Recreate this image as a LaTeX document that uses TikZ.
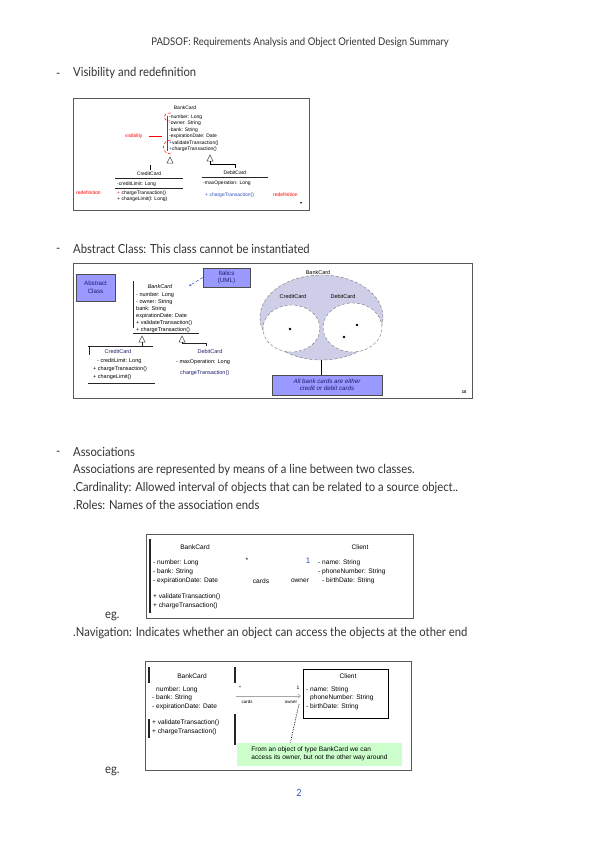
\documentclass[tikz,border=0pt]{standalone}
\usepackage{fontspec}
\setmainfont{Liberation Sans}
\newfontfamily\hand[FakeStretch=0.9]{Lato}
\usetikzlibrary{arrows.meta,shapes.geometric}
\definecolor{lav}{RGB}{153,153,255}
\definecolor{lavlight}{RGB}{206,206,232}
\definecolor{notegreen}{RGB}{204,255,204}
\definecolor{umlblue}{RGB}{50,80,190}
\definecolor{navyt}{RGB}{30,30,110}
\begin{document}
\begin{tikzpicture}[x=1pt,y=-1pt,
  hand/.style={font=\hand\fontsize{12.5}{14}\selectfont,anchor=west,inner sep=0pt,text=black!80},
  t5/.style={font=\fontsize{5}{6}\selectfont,anchor=west,inner sep=0pt},
  t55/.style={font=\fontsize{5.5}{6.5}\selectfont,anchor=west,inner sep=0pt},
  t7/.style={font=\fontsize{6.6}{7.5}\selectfont,anchor=west,inner sep=0pt},
  frame/.style={draw=black!65,line width=1pt},
  tri/.style={draw=black!70,fill=white,line width=0.5pt},
  lavbox/.style={draw=black!70,fill=lav,inner sep=1pt,align=center,text=navyt,font=\fontsize{6.2}{7.5}\selectfont},
  cls/.style={line width=0.9pt,black!85},
]
\useasboundingbox[fill=white] (0,0) rectangle (599,848);

% ---------- header
\node[hand,anchor=center,font=\hand\fontsize{10.6}{12}\selectfont] (hdr) at (300,43) {PADSOF: Requirements Analysis and Object Oriented Design Summary};

% ---------- section 1
\node[hand] (b1) at (56,75) {-};
\node[hand] (h1) at (73,73) {Visibility and redefinition};

\draw[frame] (73,99) rectangle (309,210);
\node[t5,anchor=center] (d1n) at (185,108) {BankCard};
\node[t5] (d1a1) at (169,117) {-number: Long};
\node[t5] (d1a2) at (169,123.5) {-owner: String};
\node[t5] (d1a3) at (169,130) {-bank: String};
\node[t5] (d1a4) at (169,136.5) {-expirationDate: Date};
\node[t5] (d1a5) at (169,143) {\textcolor{umlblue}{+}validateTransaction()};
\node[t5] (d1a6) at (169,149.5) {\textcolor{umlblue}{+}chargeTransaction()};
\coordinate (vtop) at (167.5,116);
\coordinate (vbot) at (167.5,151);
\draw[red,line width=0.6pt] (vtop) -- (vbot);
\draw[red,densely dashed,line width=0.5pt] (171,113) .. controls (162,112) and (162,121) .. (170,121);
\draw[red,densely dashed,line width=0.5pt] (171,140) .. controls (161,140) and (161,154) .. (171,154);
\node[t5,text=red] (vis) at (125,136) {visibility};
\coordinate (visend) at (162,136);
\draw[red,line width=0.5pt] ([xshift=6pt]vis.east) -- (visend);
% inheritance triangles
\coordinate (d1t1) at (170,157);
\coordinate (d1t2) at (210,155);
\draw[tri] (d1t1) -- ++(-3,6) -- ++(6,0) -- cycle;
\draw[tri] (d1t2) -- ++(-3,6) -- ++(6,0) -- cycle;
\coordinate (d1c1a) at (150,165);
\coordinate (d1c1b) at (150,170);
\draw[line width=0.7pt] (d1c1a) -- (d1c1b);
\coordinate (d1c2a) at (210,161);
\coordinate (d1c2b) at (235,168);
\draw[line width=0.9pt] (d1c2a) -- (210,164) -| (d1c2b);
% CreditCard
\node[t5,anchor=center] (d1cc) at (149,174) {CreditCard};
\draw[cls] (115,178) -- (183,178);
\node[t5] (d1cc1) at (117,184) {-creditLimit: Long};
\draw[cls] (115,188.5) -- (183,188.5);
\node[t5] (d1cc2) at (117,193) {\textcolor{red}{+} chargeTransaction()};
\node[t5] (d1cc3) at (117,199.5) {+ changeLimit(l: Long)};
\node[t5,text=red] (d1r1) at (76,193) {redefinition};
% DebitCard
\node[t5,anchor=center] (d1dc) at (235,173) {DebitCard};
\draw[cls] (202,177) -- (268,177);
\node[t5] (d1dc1) at (203,183) {-maxOperation: Long};
\node[t5,text=umlblue] (d1dc2) at (205,195) {+ chargeTransaction()};
\node[t5,text=red] (d1r2) at (273,195) {redefinition};
\node[font=\fontsize{3.5}{4}\selectfont,inner sep=0pt] (d1mk) at (301,204) {▼};

% ---------- section 2
\node[hand] (b2) at (56,250) {-};
\node[hand] (h2) at (73,249) {Abstract Class: This class cannot be instantiated};

\draw[frame] (73,263) rectangle (472,398);
\node[lavbox,minimum width=39pt,minimum height=27pt] (abs) at (95.5,287.5) {Abstract\\Class};
\node[lavbox,minimum width=47pt,minimum height=19pt] (ital) at (226.5,277.5) {Italics\\(UML)};
\coordinate (italtip) at (189,286);
\draw[umlblue,densely dashed,line width=0.5pt,-{Stealth[length=2.5pt]}] (ital.west) -- (italtip);
\node[t55,anchor=center,font=\itshape\fontsize{5.5}{6.5}\selectfont] (d2n) at (160,287) {BankCard};
\draw[cls,line width=1pt] (133,281) -- (133,328);
\node[t55] (d2a1) at (136,295) {- number: Long};
\node[t55] (d2a2) at (136,302) {- owner: String};
\node[t55] (d2a3) at (136,309) {bank: String};
\node[t55] (d2a4) at (136,316) {expirationDate: Date};
\node[t55] (d2a5) at (136,323) {+ validateTransaction()};
\node[t55] (d2a6) at (136,330) {+ chargeTransaction()};
\draw[cls,line width=1pt] (133,333.5) -- (199,333.5);
\coordinate (d2t1) at (142,336);
\coordinate (d2t2) at (182,336);
\draw[tri] (d2t1) -- ++(-3,6) -- ++(6,0) -- cycle;
\draw[tri] (d2t2) -- ++(-3,6) -- ++(6,0) -- cycle;
\coordinate (d2c1) at (142,346);
\draw[cls] (d2t1) ++(0,6) -- (d2c1);
\draw[cls] (88,346) -- (153,346);
\draw[cls] (89,346) -- (89,355);
\coordinate (d2c2) at (206,346);
\draw[cls] (d2t2) ++(0,6) -- (182,343) -| (d2c2);
\node[t55,anchor=center,text=navyt] (d2cc) at (118,352) {CreditCard};
\node[t55] (d2cc1) at (97,361) {- creditLimit: Long};
\node[t55] (d2cc2) at (93,369) {+ chargeTransaction()};
\node[t55] (d2cc3) at (93,377) {+ changeLimit()};
\draw[cls] (88,383) -- (155,383);
\node[t55,anchor=center,text=navyt] (d2dc) at (210,352) {DebitCard};
\node[t55] (d2dc1) at (176,362) {- maxOperation: Long};
\node[t55,text=navyt] (d2dc2) at (180,373) {chargeTransaction()};
% Venn
\node[t55,anchor=center] (vbc) at (318,273) {BankCard};
\node[ellipse,draw=black!55,densely dashed,fill=lavlight,minimum width=123pt,minimum height=85pt,inner sep=0pt] (vell) at (321.5,317.5) {};
\node[ellipse,draw=black!55,densely dashed,fill=white,minimum width=57pt,minimum height=47pt,inner sep=0pt] (vcc) at (291.5,328.5) {};
\node[ellipse,draw=black!55,densely dashed,fill=white,minimum width=59pt,minimum height=49pt,inner sep=0pt] (vdc) at (352.5,327.5) {};
\node[t55,anchor=center] (vccl) at (293,297) {CreditCard};
\node[t55,anchor=center] (vdcl) at (343,297) {DebitCard};
\node[circle,fill=black,inner sep=0pt,minimum size=2.6pt] (dot1) at (290,329) {};
\node[circle,fill=black,inner sep=0pt,minimum size=2.6pt] (dot2) at (357,325) {};
\node[circle,fill=black,inner sep=0pt,minimum size=2.6pt] (dot3) at (344,337) {};
\node[lavbox,font=\itshape\fontsize{6.2}{7.5}\selectfont,minimum width=110pt,minimum height=20pt] (vnote) at (327,385) {All bank cards are either\\credit or debit cards};
\draw[line width=0.8pt] (vell.south) -- (vell.south |- vnote.north);
\node[font=\bfseries\fontsize{4}{4}\selectfont,inner sep=0pt] (pg10) at (464,392) {10};

% ---------- section 3
\node[hand] (b3) at (56,453) {-};
\node[hand] (h3) at (73,452) {Associations};
\node[hand] (l1) at (73,470) {Associations are represented by means of a line between two classes.};
\node[hand] (l2) at (73,488) {.Cardinality: Allowed interval of objects that can be related to a source object..};
\node[hand] (l3) at (73,505) {.Roles: Names of the association ends};

\draw[frame] (146,534) rectangle (413,618);
\draw[cls,line width=1.1pt] (150,539) -- (150,613);
\node[t7,anchor=center] (d3n) at (195,547) {BankCard};
\node[t7] (d3a1) at (153,563) {- number: Long};
\node[t7] (d3a2) at (153,572) {- bank: String};
\node[t7] (d3a3) at (153,581) {- expirationDate: Date};
\node[t7] (d3m1) at (153,597) {+ validateTransaction()};
\node[t7] (d3m2) at (153,606) {+ chargeTransaction()};
\node[t7,anchor=center] (d3star) at (247,560) {*};
\node[t7,anchor=center] (d3cards) at (261,581) {cards};
\node[t7,anchor=center,text=umlblue,font=\fontsize{8}{9}\selectfont] (d3one) at (308,561) {1};
\node[t7,anchor=center] (d3owner) at (300,581) {owner};
\node[t7,anchor=center] (d3cl) at (360,547) {Client};
\node[t7] (d3c1) at (318,563) {- name: String};
\node[t7] (d3c2) at (318,572) {- phoneNumber: String};
\node[t7] (d3c3) at (322,581) {- birthDate: String};
\node[hand] (eg1) at (105,616) {eg.};

\node[hand] (l4) at (73,633) {.Navigation: Indicates whether an object can access the objects at the other end};

% ---------- diagram 4
\draw[frame] (145,661) rectangle (411,770);
\draw[cls,line width=1.1pt] (149,667) -- (149,683);
\draw[cls,line width=1.1pt] (235,667) -- (235,683);
\node[t7,anchor=center] (d4n) at (192,676) {BankCard};
\node[t7] (d4a1) at (156,690) {number: Long};
\node[t7] (d4a2) at (152,698) {- bank: String};
\node[t7] (d4a3) at (152,707) {- expirationDate: Date};
\draw[cls,line width=1.1pt] (149,719) -- (149,738);
\draw[cls,line width=1.1pt] (235,714) -- (235,745);
\node[t7] (d4m1) at (152,723) {+ validateTransaction()};
\node[t7] (d4m2) at (152,732) {+ chargeTransaction()};
\node[draw=black,line width=0.9pt,minimum width=85pt,minimum height=49pt,inner sep=0pt] (d4cl) at (345.5,693.5) {};
\node[t7,anchor=center] (d4cln) at (348,676) {Client};
\node[t7] (d4c1) at (306,690) {- name: String};
\node[t7] (d4c2) at (310,698) {phoneNumber: String};
\node[t7] (d4c3) at (306,707) {- birthDate: String};
\coordinate (asl) at (236,696);
\coordinate (asr) at (301,696);
\draw[black!35,line width=0.6pt,-{Straight Barb[length=2.5pt,width=4pt]}] (asl) -- (asr);
\node[t5,anchor=center] (d4star) at (240,688) {*};
\node[t5,anchor=center] (d4one) at (298,688) {1};
\node[font=\fontsize{4.5}{5}\selectfont,inner sep=0pt] (d4cards) at (247,702) {cards};
\node[font=\fontsize{4.5}{5}\selectfont,inner sep=0pt] (d4owner) at (291,702) {owner};
\node[fill=notegreen,minimum width=165pt,minimum height=23pt,inner sep=2pt,align=left,font=\fontsize{6.6}{8.2}\selectfont] (note) at (319.5,754) {From an object of type BankCard we can\\access its owner, but not the other way around};
\coordinate (navtip) at (299,704);
\draw[densely dotted,line width=0.7pt] (navtip) -- ([xshift=-29pt]note.north);
\node[hand] (eg2) at (105,771) {eg.};

\node[hand,anchor=center,text=umlblue,font=\hand\fontsize{10}{10}\selectfont] (pnum) at (299,793) {2};
\end{tikzpicture}
\end{document}
